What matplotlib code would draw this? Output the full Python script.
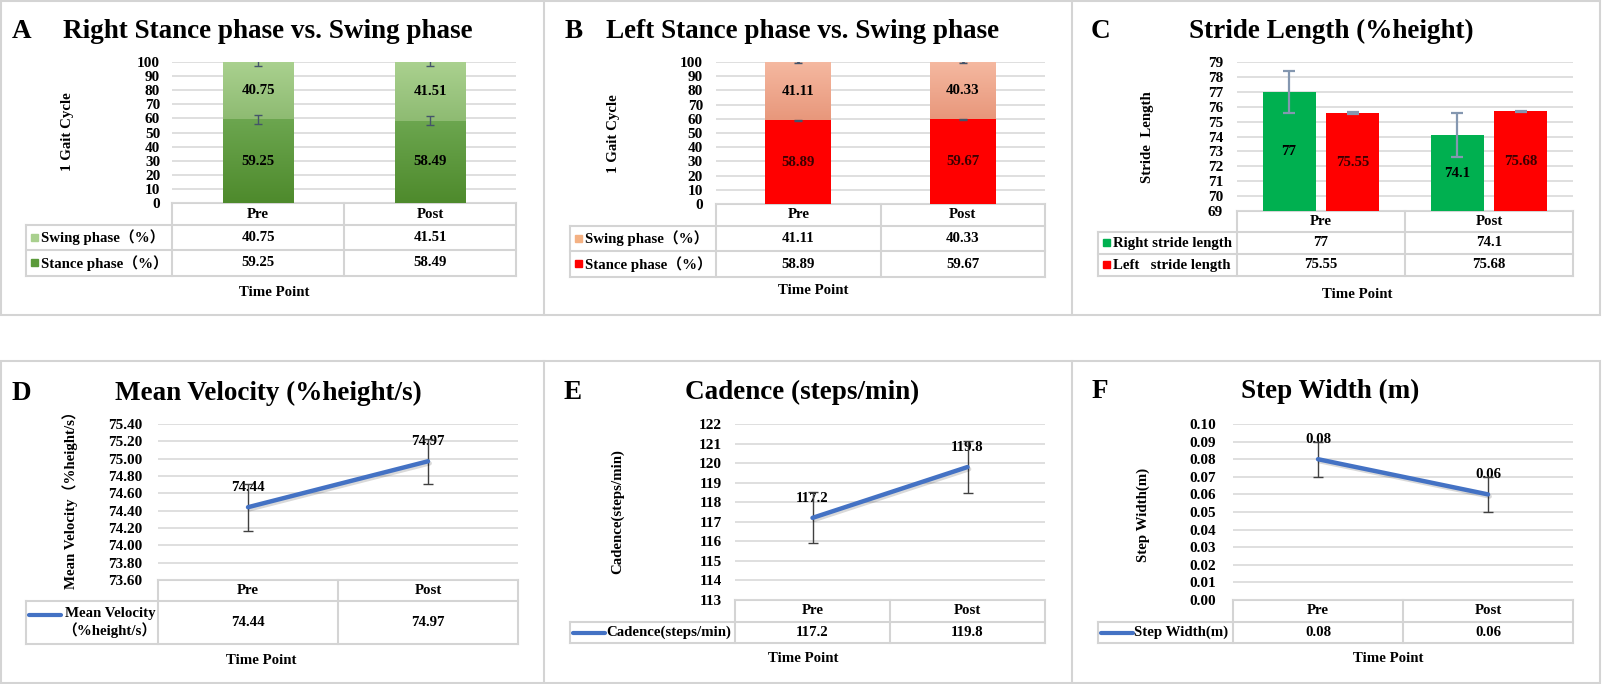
import numpy as np
import matplotlib.pyplot as plt
import matplotlib.patheffects as pe
from matplotlib.colors import LinearSegmentedColormap
from matplotlib.patches import Rectangle

plt.rcParams['font.family'] = ['Liberation Serif', 'Noto Sans CJK SC']
plt.rcParams['font.weight'] = 'bold'

# ---- data ----
time_points = ['Pre', 'Post']

right_stance = [59.25, 58.49]
right_swing = [40.75, 41.51]
right_stance_err = [3.5, 3.2]
right_swing_err = [2.5, 2.5]

left_stance = [58.89, 59.67]
left_swing = [41.11, 40.33]
left_stance_err = [0.4, 0.4]
left_swing_err = [0.4, 0.4]

right_stride = [77, 74.1]
left_stride = [75.55, 75.68]
right_stride_err = [1.4, 1.45]
left_stride_err = [0.07, 0.05]

velocity = [74.44, 74.97]
velocity_err = [0.27, 0.26]
cadence = [117.2, 119.8]
cadence_err = [1.3, 1.33]
step_width = [0.08, 0.06]
step_width_err = [0.01, 0.01]

W, H = 1602, 684
FS = 10.7
TICK_FS = 11
TITLE_FS = 19.5
BORDER = '#D4D4D4'
GRID = '#D9D9D9'
BLUE = '#4472C4'

fig = plt.figure(figsize=(W / 100, H / 100), dpi=100)
fig.patch.set_facecolor('white')

ov = fig.add_axes([0, 0, 1, 1], zorder=0)
ov.set_xlim(0, W)
ov.set_ylim(H, 0)
ov.axis('off')
ov.patch.set_alpha(0)

# panel borders
for y0, y1 in [(1, 315), (361, 683)]:
    ov.add_patch(Rectangle((1, y0), W - 3, y1 - y0, fill=False, ec=BORDER, lw=1.5))
    for xv in [544, 1072]:
        ov.plot([xv, xv], [y0, y1], color=BORDER, lw=1.5)


def make_ax(left, top, right, bottom):
    ax = fig.add_axes([left / W, 1 - bottom / H, (right - left) / W, (bottom - top) / H], zorder=2)
    ax.patch.set_alpha(0)
    for s in ax.spines.values():
        s.set_visible(False)
    ax.set_xlim(-0.5, 1.5)
    ax.set_xticks([])
    ax.yaxis.grid(True, color=GRID, lw=1.2)
    ax.set_axisbelow(True)
    return ax


def style_y(ax, ticks, fmt, pad):
    ax.set_yticks(ticks)
    ax.set_yticklabels([fmt.format(t) for t in ticks], fontsize=TICK_FS, fontweight='bold')
    ax.tick_params(axis='y', length=0, pad=pad)
    ax.set_ylim(ticks[0], ticks[-1])


def to_px(ax, x):
    d = ax.transData.transform((x, 0))
    return ov.transData.inverted().transform(d)[0]


def data_table(ax, ys, left, rows, tp_xy):
    xl, xm, xr = to_px(ax, -0.5), to_px(ax, 0.5), to_px(ax, 1.5)
    kw = dict(color=BORDER, lw=1.5)
    ov.plot([xl, xr], [ys[0], ys[0]], **kw)
    for y in ys[1:]:
        ov.plot([left, xr], [y, y], **kw)
    for xv in [xl, xm, xr]:
        ov.plot([xv, xv], [ys[0], ys[-1]], **kw)
    ov.plot([left, left], [ys[1], ys[-1]], **kw)
    yc = (ys[0] + ys[1]) / 2
    for i, name in enumerate(time_points):
        ov.text(to_px(ax, i), yc, name, ha='center', va='center', fontsize=FS)
    for r, (label, vals, key) in enumerate(rows):
        yc = (ys[r + 1] + ys[r + 2]) / 2
        for i, v in enumerate(vals):
            ov.text(to_px(ax, i), yc, str(v), ha='center', va='center', fontsize=FS)
        kind, color = key
        if kind == 'patch':
            ov.add_patch(Rectangle((left + 5, yc - 4), 7, 7, color=color))
            ov.text(left + 15, yc, label, ha='left', va='center', fontsize=FS)
        else:
            ly = yc if '\n' not in label else yc - 8
            ov.plot([left + 3, left + 35], [ly, ly], color=color, lw=3, solid_capstyle='round')
            if '\n' in label:
                ov.text(xl - 2, yc, label, ha='right', va='center', fontsize=FS,
                        multialignment='right', linespacing=1.1)
            else:
                ov.text(left + 36, yc, label, ha='left', va='center', fontsize=FS)
    ov.text(tp_xy[0], tp_xy[1], 'Time Point', ha='center', va='center', fontsize=FS)


def gradient_fill(ax, bars, top_c, bot_c):
    cmap = LinearSegmentedColormap.from_list('g', [top_c, bot_c])
    grad = np.linspace(0, 1, 256).reshape(-1, 1)
    for b in bars:
        x0, y0, w, h = b.get_x(), b.get_y(), b.get_width(), b.get_height()
        im = ax.imshow(grad, cmap=cmap, extent=(x0, x0 + w, y0, y0 + h), origin='upper',
                       aspect='auto', zorder=b.get_zorder(), interpolation='bilinear')
        im.set_clip_path(b)


def titles(letter, lx, title, tx, by):
    ov.text(lx, by, letter, ha='left', va='baseline', fontsize=TITLE_FS)
    ov.text(tx, by, title, ha='center', va='baseline', fontsize=TITLE_FS)


x = np.arange(len(time_points))

# ---- A ----
ax = make_ax(172, 62, 516, 203)
b1 = ax.bar(x, right_stance, width=0.41, color='#5E9A3D', zorder=2)
b2 = ax.bar(x, right_swing, width=0.41, bottom=right_stance, color='#9FC985', zorder=2)
gradient_fill(ax, b1, '#6CA64F', '#4E8A2C')
gradient_fill(ax, b2, '#AAD18F', '#8EBB72')
ax.errorbar(x, right_stance, yerr=right_stance_err, fmt='none', ecolor='#44546A', elinewidth=1, capsize=3, zorder=3)
ax.errorbar(x, np.add(right_stance, right_swing), yerr=right_swing_err, fmt='none', ecolor='#44546A',
            elinewidth=1, capsize=3, zorder=3)
for i in x:
    ax.text(i, right_stance[i] / 2, f'{right_stance[i]:.2f}', ha='center', va='center', fontsize=FS, zorder=4)
    ax.text(i, right_stance[i] + right_swing[i] / 2, f'{right_swing[i]:.2f}', ha='center', va='center',
            fontsize=FS, zorder=4)
style_y(ax, list(range(0, 101, 10)), '{:d}', 8.5)
ax.set_xlim(-0.5, 1.5)
data_table(ax, [203, 225, 250, 276], 26,
           [('Swing phase（%）', right_swing, ('patch', '#A9D08E')),
            ('Stance phase（%）', right_stance, ('patch', '#5B9A3A'))], (274, 292))
ov.text(68, 132, '1 Gait Cycle', rotation=90, ha='center', va='center', fontsize=FS)
titles('A', 12, 'Right Stance phase vs. Swing phase', 268, 38)

# ---- B ----
ax = make_ax(716, 62, 1045, 204)
b1 = ax.bar(x, left_stance, width=0.40, color='#FF0000', zorder=2)
b2 = ax.bar(x, left_swing, width=0.40, bottom=left_stance, color='#F0A88C', zorder=2)
gradient_fill(ax, b2, '#F5B9A1', '#E8977B')
ax.errorbar(x, left_stance, yerr=left_stance_err, fmt='none', ecolor='#44546A', elinewidth=2, capsize=3, zorder=3)
ax.errorbar(x, np.add(left_stance, left_swing), yerr=left_swing_err, fmt='none', ecolor='#44546A',
            elinewidth=2, capsize=3, zorder=3)
for i in x:
    ax.text(i, left_stance[i] / 2, f'{left_stance[i]:.2f}', ha='center', va='center', fontsize=FS,
            color='#3A0000', zorder=4)
    ax.text(i, left_stance[i] + left_swing[i] / 2, f'{left_swing[i]:.2f}', ha='center', va='center',
            fontsize=FS, zorder=4)
style_y(ax, list(range(0, 101, 10)), '{:d}', 9.4)
ax.set_xlim(-0.5, 1.5)
data_table(ax, [204, 226, 251, 277], 570,
           [('Swing phase（%）', left_swing, ('patch', '#F4B183')),
            ('Stance phase（%）', left_stance, ('patch', '#FF0000'))], (813, 291))
ov.text(614, 134, '1 Gait Cycle', rotation=90, ha='center', va='center', fontsize=FS)
titles('B', 565, 'Left Stance phase vs. Swing phase', 803, 38)

# ---- C ----
ax = make_ax(1237, 62, 1573, 211)
base = 69
bw, off = 0.315, 0.19
ax.bar(x - off, np.subtract(right_stride, base), bottom=base, width=bw, color='#00B050', zorder=2)
ax.bar(x + off, np.subtract(left_stride, base), bottom=base, width=bw, color='#FF0000', zorder=2)
ax.errorbar(x - off, right_stride, yerr=right_stride_err, fmt='none', ecolor='#8497B0', elinewidth=1.6,
            capsize=4, capthick=1.6, zorder=3)
ax.errorbar(x + off, left_stride, yerr=left_stride_err, fmt='none', ecolor='#8497B0', elinewidth=1.6,
            capsize=4, capthick=1.6, zorder=3)
for i in x:
    ax.text(i - off, (right_stride[i] + base) / 2, f'{right_stride[i]:g}', ha='center', va='center',
            fontsize=FS, zorder=4)
    ax.text(i + off, (left_stride[i] + base) / 2, f'{left_stride[i]:g}', ha='center', va='center',
            fontsize=FS, color='#3A0000', zorder=4)
style_y(ax, list(range(69, 80)), '{:d}', 10)
data_table(ax, [211, 232, 254, 276], 1098,
           [('Right stride length', right_stride, ('patch', '#00B050')),
            ('Left   stride length', left_stride, ('patch', '#FF0000'))], (1357, 294))
ov.text(1148, 137, 'Stride  Length', rotation=90, ha='center', va='center', fontsize=FS)
titles('C', 1091, 'Stride Length (%height)', 1331, 38)


# ---- line panels ----
def line_panel(box, vals, errs, ticks, fmt, pad, ys, left, label, tp, ylab, ylab_xy):
    ax = make_ax(*box)
    ax.errorbar(x, vals, yerr=errs, fmt='none', ecolor='#404040', elinewidth=1, capsize=3.5, zorder=3)
    ax.plot(x, vals, color=BLUE, lw=3.2, solid_capstyle='round', zorder=4,
            path_effects=[pe.SimpleLineShadow(offset=(1.2, -1.5), shadow_color='k', alpha=0.15), pe.Normal()])
    for i in x:
        ax.annotate(f'{vals[i]:g}' if fmt == '{:g}' else fmt.format(vals[i]), (i, vals[i]),
                    xytext=(0, 14), textcoords='offset points', ha='center', va='center',
                    fontsize=FS, zorder=2)
    style_y(ax, ticks, '{:.2f}' if fmt != '{:g}' else '{:d}', pad)
    data_table(ax, ys, left, [(label, vals, ('line', BLUE))], tp)
    ov.text(ylab_xy[0], ylab_xy[1], ylab, rotation=90, ha='center', va='center', fontsize=FS)
    return ax


line_panel((158, 424, 518, 580), velocity, velocity_err, list(np.round(np.arange(73.6, 75.41, 0.2), 2)),
           '{:.2f}', 11.5, [580, 601, 644], 26, 'Mean Velocity\n（%height/s）', (261, 661),
           'Mean Velocity（%height/s）', (70, 497))
titles('D', 12, 'Mean Velocity (%height/s)', 268, 400)

line_panel((735, 424, 1045, 600), cadence, cadence_err, list(range(113, 123)),
           '{:g}', 9.4, [600, 622, 643], 570, 'Cadence(steps/min)', (803, 659),
           'Cadence(steps/min)', (618, 512))
titles('E', 563, 'Cadence (steps/min)', 802, 399)

line_panel((1233, 424, 1573, 600), step_width, step_width_err, list(np.round(np.arange(0, 0.101, 0.01), 2)),
           '{:.2f}', 12, [600, 622, 643], 1098, 'Step Width(m)', (1388, 659),
           'Step Width(m)', (1143, 515))
titles('F', 1092, 'Step Width (m)', 1330, 398)

plt.savefig('out.png', dpi=100)
